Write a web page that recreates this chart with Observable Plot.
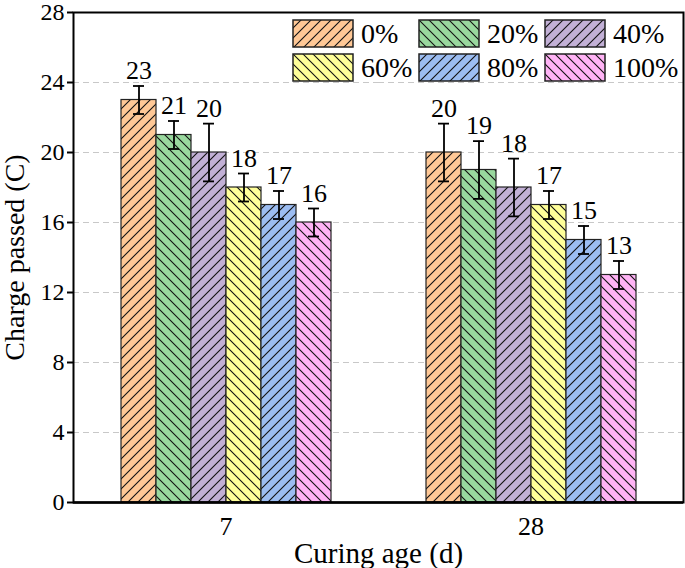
<!DOCTYPE html>
<html>
<head>
<meta charset="utf-8">
<script src="https://cdn.jsdelivr.net/npm/d3@7"></script>
<script src="https://cdn.jsdelivr.net/npm/@observablehq/plot@0.6"></script>
<style>
  body { margin: 0; background: #fff; font-family: 'Liberation Serif', 'Times New Roman', serif; }
  #wrap { position: relative; width: 685px; height: 568px; }
  .legend { position: absolute; display: flex; align-items: center; font-size: 28px; line-height: 29px; }
  .legend svg { display: block; margin-right: 7px; }
</style>
</head>
<body>
<svg width="0" height="0" style="position:absolute">
  <defs id="defs"></defs>
</svg>
<div id="wrap"></div>
<script>
const ages = ["7", "28"];
const series = ["0%", "20%", "40%", "60%", "80%", "100%"];
const values7 = [23, 21, 20, 18, 17, 16];
const values28 = [20, 19, 18, 17, 15, 13];
const errors7 = [0.8, 0.8, 1.65, 0.8, 0.8, 0.8];
const errors28 = [1.65, 1.65, 1.65, 0.8, 0.8, 0.8];
const colors = ["#FFC896", "#99D89E", "#C2B0D6", "#FFFF99", "#9CBDF2", "#FFB3F5"];
const hatchDir = ["/", "\\", "/", "\\", "/", "\\"];
const yTicks = [0, 4, 8, 12, 16, 20, 24, 28];

// build hatch patterns
const defs = d3.select("#defs");
series.forEach((s, i) => {
  const p = defs.append("pattern")
    .attr("id", "hatch" + i)
    .attr("patternUnits", "userSpaceOnUse")
    .attr("width", 10).attr("height", 10);
  p.append("rect").attr("width", 10).attr("height", 10).attr("fill", colors[i]);
  const d = hatchDir[i] === "/"
    ? "M-1,1 l2,-2 M0,10 l10,-10 M9,11 l2,-2"
    : "M-1,9 l2,2 M0,0 l10,10 M9,-1 l2,2";
  p.append("path").attr("d", d).attr("stroke", "#111").attr("stroke-width", 1.1);
});

const rows = [];
ages.forEach((a, k) => {
  const vals = k === 0 ? values7 : values28;
  const errs = k === 0 ? errors7 : errors28;
  series.forEach((s, i) => rows.push({age: a, series: s, value: vals[i], err: errs[i], fill: `url(#hatch${i})`}));
});

const font = "'Liberation Serif', 'Times New Roman', serif";
let frameMark;
try { frameMark = Plot.frame({facet: "super", stroke: "black", strokeWidth: 2}); } catch (e) { frameMark = null; }

const chart = Plot.plot({
  width: 685, height: 568,
  marginLeft: 73, marginRight: 2, marginTop: 12, marginBottom: 66,
  style: {fontFamily: font, fontSize: "26px", color: "black", background: "transparent"},
  fx: {domain: ages, padding: 0},
  x: {domain: series, paddingInner: 0, paddingOuter: 1.3, axis: null},
  y: {domain: [0, 28]},
  color: {type: "identity"},
  marks: [
    Plot.gridY(yTicks.slice(1, -1), {stroke: "#c8c8c8", strokeOpacity: 1, strokeDasharray: "6,4", strokeWidth: 1.2}),
    Plot.barY(rows, {fx: "age", x: "series", y: "value", fill: "fill", stroke: "#222", strokeWidth: 1.2}),
    Plot.ruleX(rows, {fx: "age", x: "series", y1: d => d.value - d.err, y2: d => d.value + d.err, stroke: "black", strokeWidth: 1.8}),
    Plot.tickY(rows, {fx: "age", x: "series", y: d => d.value + d.err, inset: 12, stroke: "black", strokeWidth: 1.8}),
    Plot.tickY(rows, {fx: "age", x: "series", y: d => d.value - d.err, inset: 12, stroke: "black", strokeWidth: 1.8}),
    Plot.text(rows, {fx: "age", x: "series", y: d => d.value + d.err, text: d => String(d.value), dy: -15, fontSize: 26, fill: "black"}),
    Plot.axisY({ticks: yTicks, tickSize: 6, tickPadding: 3, strokeWidth: 2, fontSize: 24, label: null}),
    Plot.axisY({ticks: [], tickSize: 0, fontSize: 28, label: "Charge passed (C)", labelAnchor: "center", labelOffset: 69, labelArrow: "none"}),
    Plot.axisFx({anchor: "bottom", tickSize: 0, tickPadding: 14, fontSize: 26, label: null}),
    Plot.axisFx({anchor: "bottom", ticks: [], tickSize: 0, fontSize: 29, label: "Curing age (d)", labelAnchor: "center", labelOffset: 60, labelArrow: "none"}),
    Plot.ruleY([0], {stroke: "black", strokeWidth: 2.5}),
    frameMark
  ].filter(Boolean)
});
const wrap = document.getElementById("wrap");
wrap.appendChild(chart);

// legend (2 rows x 3 columns, top-right inside the plot)
const colLeft = [292, 418, 544];
const rowTop = [19, 53];
series.forEach((s, i) => {
  const div = document.createElement("div");
  div.className = "legend";
  div.style.left = colLeft[i % 3] + "px";
  div.style.top = rowTop[Math.floor(i / 3)] + "px";
  div.innerHTML = `<svg width="62" height="29"><rect x="1" y="1" width="60" height="27" fill="url(#hatch${i})" stroke="#222" stroke-width="1.5"/></svg><span>${s}</span>`;
  wrap.appendChild(div);
});
</script>
</body>
</html>
